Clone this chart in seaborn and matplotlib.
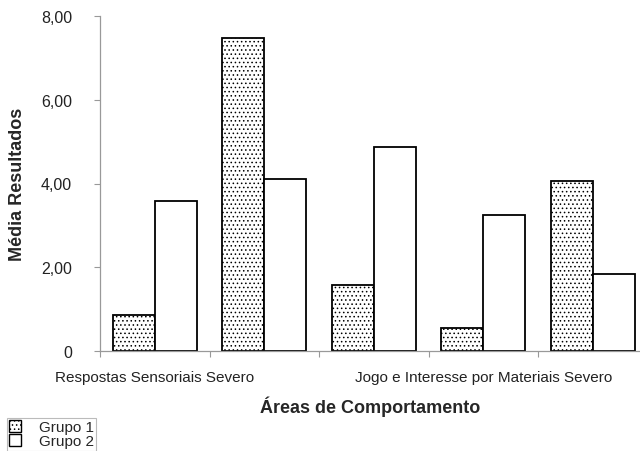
import matplotlib
matplotlib.use("Agg")
import matplotlib.pyplot as plt
import seaborn as sns
import pandas as pd
from matplotlib.ticker import FixedLocator, FuncFormatter

# Mean scores per behaviour area for the two groups
areas = [
    "Respostas Sensoriais Severo",
    "Relacionamento e Afeto Severo",
    "Linguagem Severo",
    "Jogo e Interesse por Materiais Severo",
    "Respostas Sensoriais Moderado",
]
grupo1 = [0.86, 7.47, 1.58, 0.56, 4.06]
grupo2 = [3.58, 4.10, 4.87, 3.25, 1.84]
grupos = ["Grupo 1", "Grupo 2"]

df = pd.DataFrame({
    "Área": areas * 2,
    "Grupo": [grupos[0]] * len(areas) + [grupos[1]] * len(areas),
    "Média": grupo1 + grupo2,
})

sns.set_theme(style="white")
plt.rcParams["font.family"] = ["Liberation Sans", "DejaVu Sans"]
plt.rcParams["hatch.linewidth"] = 0.6
plt.rcParams["hatch.color"] = "#555555"

fig = plt.figure(figsize=(6.4, 4.52), dpi=100)
ax = fig.add_axes([100 / 640, 1 - 352 / 452, 547.5 / 640, 335 / 452])

sns.barplot(data=df, x="Área", y="Média", hue="Grupo", order=areas,
            hue_order=grupos, palette=["white", "white"], width=0.77,
            edgecolor="black", linewidth=1.3, saturation=1, ax=ax,
            legend=False)

for bar in ax.containers[0]:
    bar.set_hatch("....")
    bar.set_edgecolor("black")

ax.set_xlim(-0.5, len(areas) - 0.5)
ax.set_ylim(0, 8)

# y axis: comma decimals, plain zero
ax.set_yticks([0, 2, 4, 6, 8])
ax.yaxis.set_major_formatter(FuncFormatter(
    lambda v, _: "0" if v == 0 else f"{v:.2f}".replace(".", ",")))
ax.tick_params(axis="y", which="major", left=True, length=4, width=0.8,
               color="#999999", pad=16, labelsize=11.5, labelcolor="#222222")

# x axis: labels every third category, ticks at the category boundaries
ax.set_xticks(range(len(areas)))
ax.set_xticklabels([a if i % 3 == 0 else "" for i, a in enumerate(areas)])
ax.tick_params(axis="x", which="major", bottom=False, pad=8,
               labelsize=11, labelcolor="#222222")
ax.xaxis.set_minor_locator(FixedLocator([i - 0.5 for i in range(len(areas) + 1)]))
ax.tick_params(axis="x", which="minor", bottom=True, length=4, width=0.8,
               color="#999999")

for side in ("top", "right"):
    ax.spines[side].set_visible(False)
for side in ("left", "bottom"):
    ax.spines[side].set_color("#999999")
    ax.spines[side].set_linewidth(0.9)

ax.set_ylabel("Média Resultados", fontsize=13, fontweight="bold")
ax.set_xlabel("Áreas de Comportamento", fontsize=13, fontweight="bold")
ax.xaxis.set_label_coords((370 - 100) / 547.5, -(397 - 352) / 335)
ax.yaxis.set_label_coords(-(100 - 26) / 547.5, 0.5)

handles = [plt.Rectangle((0, 0), 1, 1, facecolor="white", edgecolor="black",
                         linewidth=1.0, hatch="...."),
           plt.Rectangle((0, 0), 1, 1, facecolor="white", edgecolor="black",
                         linewidth=1.0)]
leg = fig.legend(handles, grupos, loc="upper left",
                 bbox_to_anchor=(7 / 640, 1 - 419 / 452), frameon=True,
                 fancybox=False, fontsize=11, handlelength=0.75,
                 handleheight=0.75, handletextpad=1.2, borderpad=0.15,
                 labelspacing=0.0, borderaxespad=0)
leg.get_frame().set_edgecolor("#aaaaaa")
leg.get_frame().set_linewidth(0.8)

fig.savefig("out.png", dpi=100)
